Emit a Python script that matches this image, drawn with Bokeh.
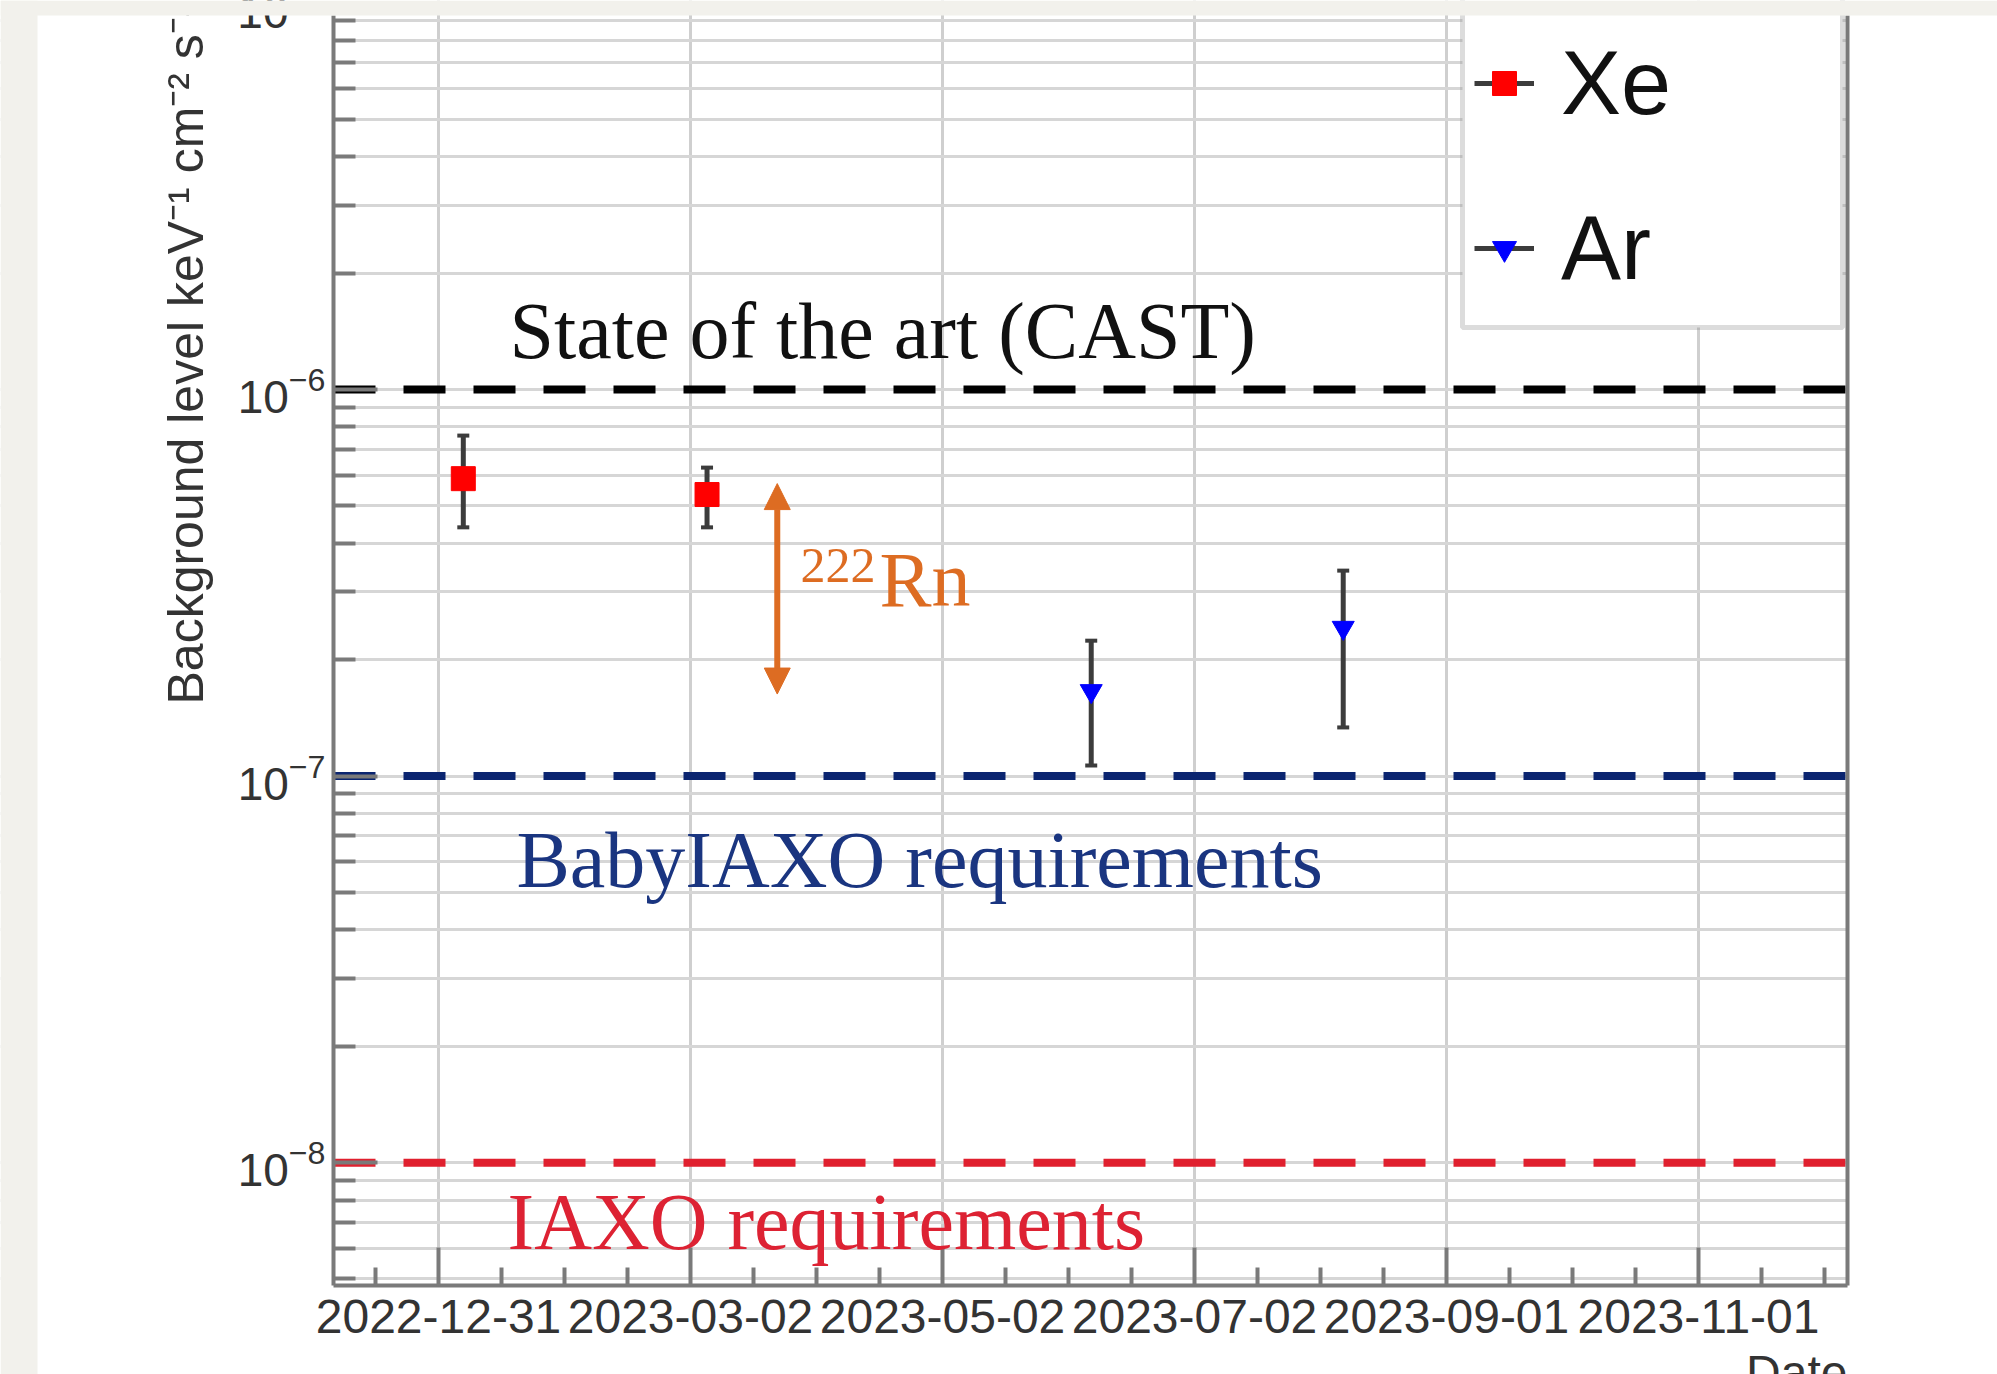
import math
import pandas as pd
from bokeh.plotting import figure
from bokeh.models import (Range1d, FixedTicker, LogAxis, Label, Arrow, NormalHead,
                          Legend, LegendItem, BoxAnnotation, ColumnDataSource,
                          DatetimeTickFormatter)
from bokeh.embed import file_html
from bokeh.resources import INLINE

# ---------------- data ----------------
xe_dates = ["2023-01-06", "2023-03-06"]
xe_values = [5.88e-7, 5.35e-7]
xe_low = [4.40e-7, 4.40e-7]
xe_high = [7.60e-7, 6.28e-7]

ar_dates = ["2023-06-07", "2023-08-07"]
ar_values = [1.66e-7, 2.42e-7]
ar_low = [1.065e-7, 1.336e-7]
ar_high = [2.24e-7, 3.40e-7]

level_names = ["State of the art (CAST)", "BabyIAXO requirements", "IAXO requirements"]
level_values = [1e-6, 1e-7, 1e-8]

rn_date = "2023-03-23"
rn_top = 5.71e-7
rn_bottom = 1.63e-7

tick_labels = ["2022-12-31", "2023-03-02", "2023-05-02", "2023-07-02", "2023-09-01", "2023-11-01"]
y_major = [1e-8, 1e-7, 1e-6, 1e-5]

# ---------------- geometry ----------------
DAY = 86400000


def ms(s):
    return int(pd.Timestamp(s).value // 1_000_000)


W, H = 1997, 1374
FL, FR, FT, FB = 333, 1847, 15, 1285       # visible axes box (canvas px)
x_start = ms("2022-12-31") - 25.42 * DAY
x_end = ms("2023-11-01") + 36.07 * DAY
y_bot = 4.81e-9
y_top = 9.28e-6
LT, LB = math.log10(y_top), math.log10(y_bot)


def xpx(px):
    return x_start + (px - FL) / (FR - FL) * (x_end - x_start)


def ypx(py):
    return 10 ** (LT - (py - FT) / (FB - FT) * (LT - LB))


AXC = "#7a7a7a"
TXT = "#333333"
NAVY = "#0b2570"
RED = "#e0202e"
ORANGE = "#dd6c22"
GREY = "#f2f1ec"
BASE_SHIFT = 0.36   # Label alphabetic baseline correction (em)

p = figure(width=W, height=H, x_axis_type="datetime", y_axis_type="log",
           x_range=Range1d(xpx(0), xpx(W)), y_range=Range1d(ypx(H), ypx(0)),
           output_backend="svg", toolbar_location=None,
           min_border=0, min_border_left=0, min_border_right=0, min_border_top=0,
           min_border_bottom=0,
           background_fill_color="white", border_fill_color="white", outline_line_color=None)

# ---------------- x axis ----------------
xt = [ms(d) for d in tick_labels]
minor_x = []
for t in xt:
    for k in (-1, 1, 2, 3):
        v = int(t + k * 15.25 * DAY)
        if x_start < v < x_end and v not in xt and v not in minor_x:
            minor_x.append(v)
xa = p.xaxis[0]
xa.fixed_location = y_bot
xa.bounds = (x_start, x_end)
xa.ticker = FixedTicker(ticks=xt, minor_ticks=minor_x)
fmt = "%Y-%m-%d"
xa.formatter = DatetimeTickFormatter(milliseconds=fmt, seconds=fmt, minsec=fmt, minutes=fmt,
                                     hourmin=fmt, hours=fmt, days=fmt, months=fmt, years=fmt)
xa.major_label_overrides = {t: lab for t, lab in zip(xt, tick_labels)}
xa.axis_line_color = AXC
xa.axis_line_width = 4
xa.major_tick_line_color = AXC
xa.major_tick_line_width = 4
xa.major_tick_in = 38
xa.major_tick_out = 0
xa.minor_tick_line_color = AXC
xa.minor_tick_line_width = 4
xa.minor_tick_in = 18
xa.minor_tick_out = 0
xa.major_label_text_font = "Liberation Sans"
xa.major_label_text_font_size = "48px"
xa.major_label_text_color = TXT
xa.major_label_standoff = 14

# ---------------- y axis ----------------
y_major_vis = [v for v in y_major if y_bot <= v <= y_top]
minor_y = [m * 10 ** e for e in range(-9, -4) for m in range(2, 10)
           if y_bot <= m * 10 ** e <= y_top]
ya = p.yaxis[0]
ya.fixed_location = x_start
ya.bounds = (y_bot, y_top)
ya.ticker = FixedTicker(ticks=y_major_vis, minor_ticks=minor_y)
ya.axis_line_color = AXC
ya.axis_line_width = 4
ya.major_tick_line_color = AXC
ya.major_tick_line_width = 4
ya.major_tick_in = 44
ya.major_tick_out = 0
ya.minor_tick_line_color = AXC
ya.minor_tick_line_width = 4
ya.minor_tick_in = 22
ya.minor_tick_out = 0
ya.major_label_text_font = "Liberation Sans"
ya.major_label_text_font_size = "46px"
ya.major_label_text_color = TXT
ya.major_label_standoff = 8

ra = LogAxis(ticker=FixedTicker(ticks=[]), fixed_location=x_end, bounds=(y_bot, y_top),
             axis_line_color=AXC, axis_line_width=4,
             major_tick_line_color=None, minor_tick_line_color=None,
             major_label_text_font_size="0px")
p.add_layout(ra, "right")

# ---------------- grid ----------------
p.xgrid.grid_line_color = "#cfcfcf"
p.xgrid.grid_line_width = 3
p.ygrid.grid_line_color = "#d6d6d6"
p.ygrid.grid_line_width = 3
p.ygrid.minor_grid_line_color = "#d6d6d6"
p.ygrid.minor_grid_line_width = 3


def canvas_box(l, r, t, b, fill, level, line=None, lw=1):
    p.add_layout(BoxAnnotation(left=l, right=r, top=t, bottom=b,
                               left_units="canvas", right_units="canvas",
                               top_units="canvas", bottom_units="canvas",
                               fill_color=fill, fill_alpha=1.0, line_color=line,
                               line_width=lw, level=level))


# white covers outside the axes box (hide grid lines there)
for l, r, t, b in [(0, FL, 0, H), (FR, W, 0, H), (0, W, FB, H)]:
    canvas_box(l, r, t, b, "white", "underlay")


def lab(text, px, py, size, color, font="Liberation Serif", align="left", angle=0.0):
    # (px, py): baseline anchor in canvas pixels
    if angle == 0.0:
        py = py - BASE_SHIFT * size
    else:
        px = px - BASE_SHIFT * size
    p.add_layout(Label(x=xpx(px), y=ypx(py), text=text, text_font=font,
                       text_font_size=f"{size}px", text_color=color, text_align=align,
                       text_baseline="alphabetic", angle=angle))


# ---------------- reference levels ----------------
level_colors = ["#000000", NAVY, RED]
level_text_colors = ["#111111", "#1a3580", "#dd2233"]
level_text_pos = [(509, 359), (516, 888), (507, 1250)]
for val, col in zip(level_values, level_colors):
    p.segment(x0=[x_start], y0=[val], x1=[x_end], y1=[val], line_color=col, line_width=8,
              line_dash="42 28")
for name, col, (px, py) in zip(level_names, level_text_colors, level_text_pos):
    lab(name, px, py, 80, col)


# ---------------- data series ----------------
def series(dates, vals, lo, hi, marker, color, size):
    src = ColumnDataSource(dict(x=[ms(d) for d in dates], y=vals, lo=lo, hi=hi))
    seg = p.segment(x0="x", y0="lo", x1="x", y1="hi", source=src,
                    line_color="#3c3c3c", line_width=5)
    p.scatter("x", "lo", source=src, marker="dash", size=12, line_color="#3c3c3c", line_width=4)
    p.scatter("x", "hi", source=src, marker="dash", size=12, line_color="#3c3c3c", line_width=4)
    sc = p.scatter("x", "y", source=src, marker=marker, size=size, fill_color=color,
                   line_color=color, line_width=1)
    return seg, sc


seg_xe, sc_xe = series(xe_dates, xe_values, xe_low, xe_high, "square", "#ff0000", 24)
seg_ar, sc_ar = series(ar_dates, ar_values, ar_low, ar_high, "inverted_triangle", "#0000ff", 22)

# ---------------- Rn arrow ----------------
p.add_layout(Arrow(start=NormalHead(size=26, fill_color=ORANGE, line_color=ORANGE),
                   end=NormalHead(size=26, fill_color=ORANGE, line_color=ORANGE),
                   x_start=ms(rn_date), y_start=rn_top, x_end=ms(rn_date), y_end=rn_bottom,
                   line_color=ORANGE, line_width=6))
lab("222", 800, 583, 50, ORANGE)
lab("Rn", 879, 607, 78, ORANGE)

# ---------------- axis titles ----------------
lab("Background level keV⁻¹ cm⁻² s⁻¹", 203, 704, 50, "#333333", font="Liberation Sans",
    angle=math.pi / 2)
lab("Date", FR, 1389, 48, "#333333", font="Liberation Sans", align="right")
lab("10", 288, 28, 46, TXT, font="Liberation Sans", align="right")

# ---------------- legend (frame extends above the visible area) ----------------
canvas_box(1462, 1842, -20, 327, "white", "annotation", line="#8a8a8a", lw=5)
legend = Legend(items=[LegendItem(label="Xe", renderers=[seg_xe, sc_xe]),
                       LegendItem(label="Ar", renderers=[seg_ar, sc_ar])],
                location=(1474, H - 309), orientation="vertical",
                padding=11, spacing=43, margin=0,
                glyph_width=60, glyph_height=122, label_height=122, label_width=240,
                label_standoff=27, label_text_font="Liberation Sans",
                label_text_font_size="90px", label_text_color="#111111",
                border_line_color=None, background_fill_alpha=0.0)
p.add_layout(legend, "center")

# ---------------- page strips ----------------
for l, r, t, b in [(0, 37, 0, H), (0, W, 0, FT)]:
    canvas_box(l, r, t, b, GREY, "overlay")

open("out.html", "w").write(file_html(p, INLINE))
